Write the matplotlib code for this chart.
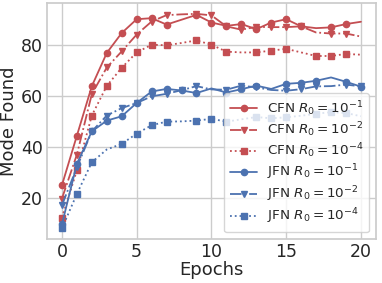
import matplotlib
matplotlib.use("Agg")
import matplotlib.pyplot as plt
import numpy as np
import seaborn as sns

sns.set_theme(style="whitegrid")
plt.rcParams['font.family'] = ['DejaVu Sans']

epochs = np.arange(21)

cfn_r1 = [25.0, 44.4, 63.8, 76.8, 84.6, 90.0, 90.4, 87.9, 89.8, 91.7, 88.7,
          87.4, 88.1, 86.1, 88.7, 90.0, 87.2, 86.5, 86.8, 88.1, 89.0]
cfn_r2 = [19.8, 37.0, 60.7, 71.1, 77.4, 84.0, 89.1, 91.6, 91.9, 92.1, 91.5,
          87.2, 85.9, 87.0, 86.9, 86.9, 87.2, 84.8, 84.4, 84.4, 83.2]
cfn_r4 = [12.3, 30.8, 52.3, 63.9, 71.0, 77.0, 80.0, 79.8, 80.7, 81.7, 80.0,
          77.3, 77.0, 77.0, 77.7, 78.4, 77.0, 75.6, 75.6, 76.4, 76.1]
jfn_r1 = [9.7, 33.4, 46.1, 50.3, 52.0, 57.2, 61.7, 62.7, 62.1, 61.1, 62.9,
          61.3, 62.6, 64.0, 62.7, 64.7, 65.1, 65.9, 67.2, 65.5, 63.6]
jfn_r2 = [17.2, 32.0, 46.1, 52.3, 55.2, 57.2, 59.8, 60.8, 62.2, 63.8, 62.5,
          62.4, 64.0, 63.3, 62.3, 62.0, 62.6, 63.7, 63.8, 64.4, 63.7]
jfn_r4 = [8.1, 21.6, 34.0, 39.0, 41.2, 45.2, 48.5, 49.9, 50.0, 50.3, 51.0,
          49.9, 50.8, 51.7, 51.2, 51.6, 52.2, 53.0, 53.6, 53.3, 52.0]

# epochs where the reference shows no marker on the line
skip_cfn_r1 = [8, 17, 20]
skip_cfn_r2 = [8, 17, 20]
skip_cfn_r4 = [8, 12, 16, 20]
skip_jfn_r1 = [10, 14, 18]
skip_jfn_r2 = [10, 14, 18]
skip_jfn_r4 = [3, 8, 12, 16, 20]

red = "#c44e52"
blue = "#4c72b0"

series = [
    (cfn_r1, skip_cfn_r1, red, "-", "o", r"CFN $R_0=10^{-1}$"),
    (cfn_r2, skip_cfn_r2, red, "-.", "v", r"CFN $R_0=10^{-2}$"),
    (cfn_r4, skip_cfn_r4, red, ":", "s", r"CFN $R_0=10^{-4}$"),
    (jfn_r1, skip_jfn_r1, blue, "-", "o", r"JFN $R_0=10^{-1}$"),
    (jfn_r2, skip_jfn_r2, blue, "-.", "v", r"JFN $R_0=10^{-2}$"),
    (jfn_r4, skip_jfn_r4, blue, ":", "s", r"JFN $R_0=10^{-4}$"),
]

fig, ax = plt.subplots(figsize=(3.82, 2.83), dpi=100)
fig.subplots_adjust(left=0.123, right=0.984, top=0.989, bottom=0.155)

for vals, skip, col, ls, mk, lab in series:
    marks = [i for i in range(len(vals)) if i not in skip]
    ax.plot(epochs, vals, color=col, linestyle=ls, marker=mk,
            markersize=4.5, linewidth=1.3, markevery=marks, label=lab)

ax.set_xlabel("Epochs", fontsize=13, labelpad=0)
ax.set_ylabel("Mode Found", fontsize=13, labelpad=2)
ax.set_xticks([0, 5, 10, 15, 20])
ax.set_yticks([20, 40, 60, 80])
ax.tick_params(labelsize=12.5, pad=3, length=0)

ax.legend(loc="lower right", fontsize=9.7, framealpha=0.8,
          labelspacing=0.18, borderpad=0.45, handletextpad=0.7)

plt.savefig("out.png", dpi=100)
plt.close()
